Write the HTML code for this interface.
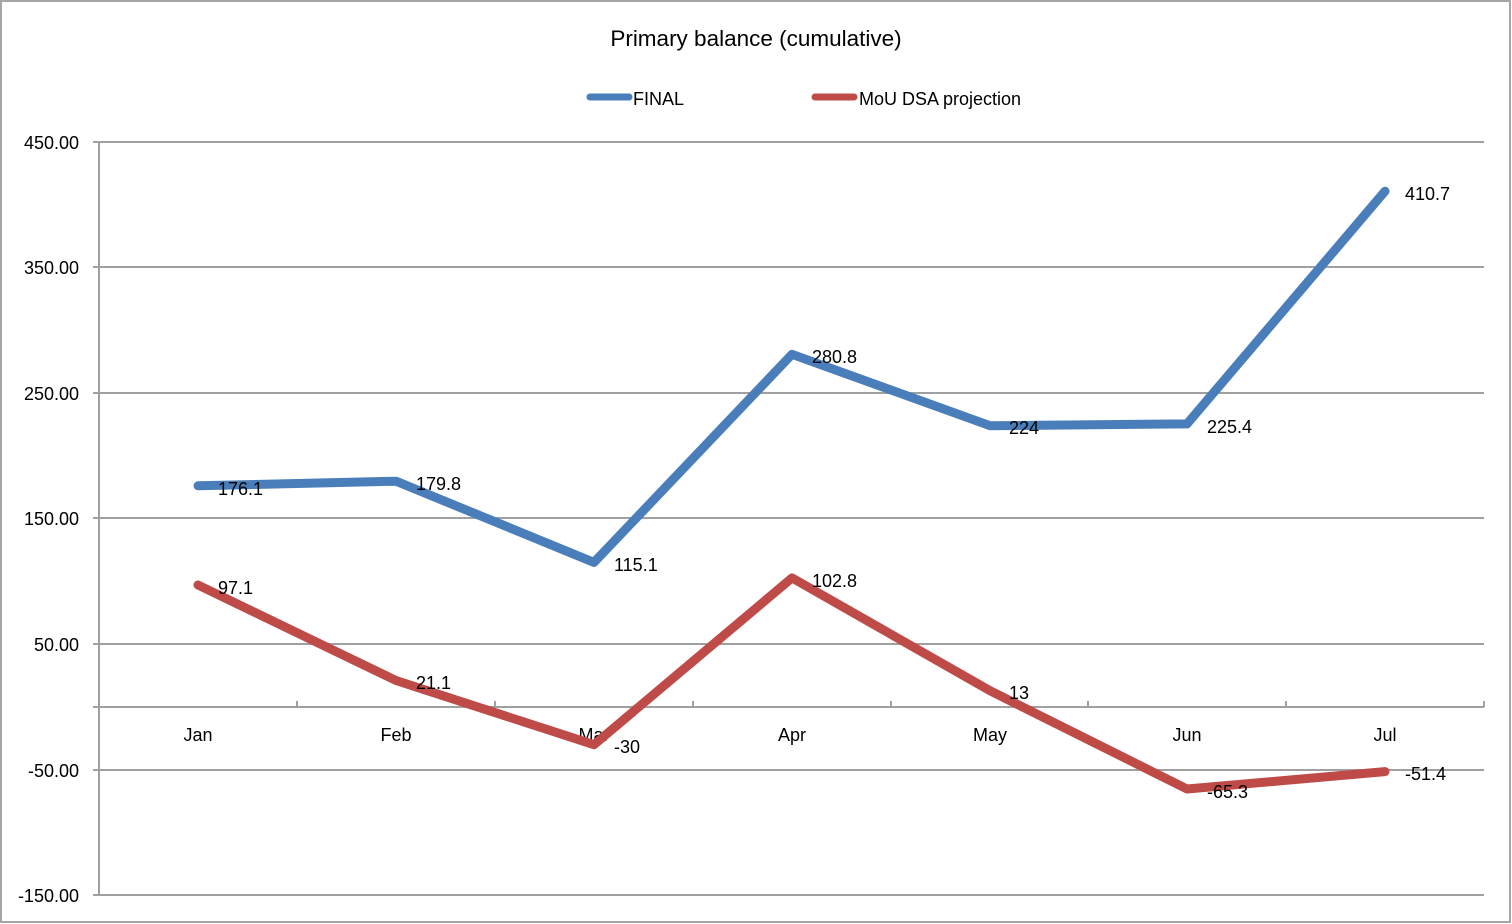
<!DOCTYPE html>
<html><head><style>body{margin:0;background:#fff}svg{display:block}text{font-family:"Liberation Sans","DejaVu Sans",sans-serif;fill:#000}</style></head>
<body>
<svg width="1512" height="924" viewBox="0 0 1512 924">
<rect x="1" y="1" width="1509" height="921" fill="#fff" stroke="#a6a6a6" stroke-width="2"/>
<text x="756" y="46" font-size="22.5" text-anchor="middle">Primary balance (cumulative)</text>
<line x1="590" y1="97" x2="629" y2="97" stroke="#4a7ebb" stroke-width="7" stroke-linecap="round"/>
<text x="633" y="105" font-size="18">FINAL</text>
<line x1="815" y1="97" x2="854" y2="97" stroke="#be4b48" stroke-width="7" stroke-linecap="round"/>
<text x="859" y="105" font-size="18">MoU DSA projection</text>
<g stroke="#a0a0a0" stroke-width="2">
<line x1="93" y1="142" x2="1484" y2="142"/>
<line x1="93" y1="267" x2="1484" y2="267"/>
<line x1="93" y1="393" x2="1484" y2="393"/>
<line x1="93" y1="518" x2="1484" y2="518"/>
<line x1="93" y1="644" x2="1484" y2="644"/>
<line x1="93" y1="707" x2="1484" y2="707"/>
<line x1="93" y1="770" x2="1484" y2="770"/>
<line x1="93" y1="895" x2="1484" y2="895"/>
<line x1="99" y1="142" x2="99" y2="895"/>
<line x1="297" y1="701" x2="297" y2="707"/>
<line x1="495" y1="701" x2="495" y2="707"/>
<line x1="693" y1="701" x2="693" y2="707"/>
<line x1="891" y1="701" x2="891" y2="707"/>
<line x1="1088" y1="701" x2="1088" y2="707"/>
<line x1="1286" y1="701" x2="1286" y2="707"/>
<line x1="1484" y1="701" x2="1484" y2="707"/>
</g>
<g font-size="18" text-anchor="end">
<text x="79" y="149">450.00</text>
<text x="79" y="274">350.00</text>
<text x="79" y="400">250.00</text>
<text x="79" y="525">150.00</text>
<text x="79" y="651">50.00</text>
<text x="79" y="777">-50.00</text>
<text x="79" y="902">-150.00</text>
</g>
<g font-size="18" text-anchor="middle">
<text x="198" y="741">Jan</text><text x="396" y="741">Feb</text><text x="594" y="741">Mar</text><text x="792" y="741">Apr</text><text x="990" y="741">May</text><text x="1187" y="741">Jun</text><text x="1385" y="741">Jul</text>
</g>
<polyline fill="none" stroke="#4a7ebb" stroke-width="9" stroke-linecap="round" stroke-linejoin="round" points="198,485.8 396,481.2 594,562.4 792,354.3 990,425.7 1187,423.9 1385,191.2"/>
<polyline fill="none" stroke="#be4b48" stroke-width="9" stroke-linecap="round" stroke-linejoin="round" points="198,585 396,680.5 594,744.7 792,577.9 990,690.7 1187,789 1385,771.6"/>
<g font-size="18">
<text x="218" y="495">176.1</text><text x="416" y="490">179.8</text><text x="614" y="571">115.1</text><text x="812" y="363">280.8</text><text x="1009" y="434">224</text><text x="1207" y="433">225.4</text><text x="1405" y="200">410.7</text>
<text x="218" y="594">97.1</text><text x="416" y="689">21.1</text><text x="614" y="753">-30</text><text x="812" y="587">102.8</text><text x="1009" y="699">13</text><text x="1207" y="798">-65.3</text><text x="1405" y="780">-51.4</text>
</g>
</svg>
</body></html>
